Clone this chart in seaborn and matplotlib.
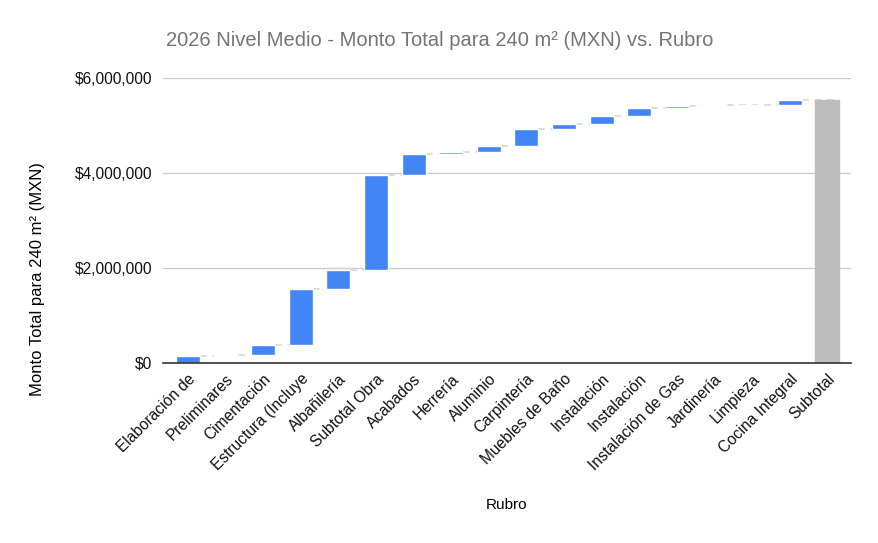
import matplotlib
matplotlib.use("Agg")
import matplotlib.pyplot as plt
import seaborn as sns
import numpy as np
import pandas as pd
from matplotlib.ticker import FuncFormatter

categories = ["Elaboración de", "Preliminares", "Cimentación", "Estructura (Incluye",
              "Albañilería", "Subtotal Obra", "Acabados", "Herrería", "Aluminio",
              "Carpintería", "Muebles de Baño", "Instalación", "Instalación",
              "Instalación de Gas", "Jardinería", "Limpieza", "Cocina Integral", "Subtotal"]
increments = [155000, 20000, 211000, 1179000, 400000, 2000000, 442000, 42000, 126000,
              358000, 105000, 168000, 169000, 42000, 5000, 16000, 105000]
title = "2026 Nivel Medio - Monto Total para 240 m² (MXN) vs. Rubro"
ylabel = "Monto Total para 240 m² (MXN)"
xlabel = "Rubro"
yticks = [0, 2000000, 4000000, 6000000]

cum = np.cumsum(increments)
total = cum[-1]
heights = list(increments) + [total]
bottoms = list(np.concatenate([[0], cum[:-1]])) + [0]
tops = list(cum) + [total]
blue = "#4285F4"
gray = "#BDBDBD"

sns.set_theme(style="white")
plt.rcParams["font.family"] = ["Liberation Sans", "DejaVu Sans"]

fig = plt.figure(figsize=(8.79, 5.43), dpi=100)
ax = fig.add_axes([163/879, 180/543, 688/879, 285/543])

ids = [f"c{i}" for i in range(len(categories))]
df = pd.DataFrame({"cat": ids, "h": heights})
sns.barplot(data=df, x="cat", y="h", order=ids, color=blue, bottom=bottoms,
            width=0.64, ax=ax, saturation=1, zorder=3, errorbar=None)
ax.patches[-1].set_facecolor(gray)
ax.patches[-1].set_edgecolor(gray)

w = 0.64
for i in range(len(categories) - 1):
    ax.hlines(tops[i], i + w/2, i + 1 + w/2, colors="#D5D5D5",
              linestyles=(0, (4, 3.5)), linewidth=1.2, zorder=2)

ax.set_ylim(0, 6000000)
ax.set_xlim(-0.665, 17.63)
ax.set_yticks(yticks)
ax.yaxis.set_major_formatter(FuncFormatter(lambda v, p: f"${v:,.0f}"))
ax.set_xticks(range(len(categories)))
ax.set_xticklabels(categories, rotation=45, ha="right", rotation_mode="anchor",
                   fontsize=11.2, color="#111111")
ax.tick_params(axis="y", labelsize=11.2, labelcolor="#111111", length=0, pad=8)
ax.tick_params(axis="x", length=0, pad=6)
ax.grid(axis="y", color="#CCCCCC", linewidth=1, zorder=0)
ax.set_axisbelow(True)
for s in ["top", "right", "left"]:
    ax.spines[s].set_visible(False)
ax.spines["bottom"].set_color("#333333")
ax.spines["bottom"].set_linewidth(1.2)
ax.spines["bottom"].set_zorder(4)

ax.set_ylabel("")
ax.set_xlabel(xlabel, fontsize=11, color="#000000", labelpad=18)
fig.text(38/879, 1 - 279/543, ylabel, fontsize=12, color="#000000",
         rotation=90, ha="center", va="center")
fig.text(440/879, 1 - 41/543, title, fontsize=14.5, color="#757575",
         ha="center", va="center")

fig.savefig("out.png", dpi=100)
